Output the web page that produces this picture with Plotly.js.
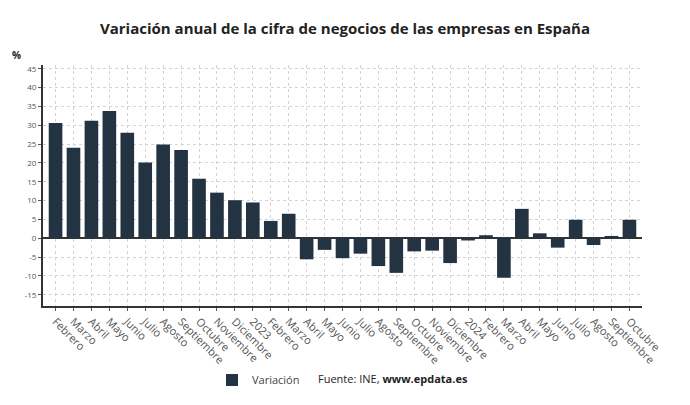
<!DOCTYPE html>
<html>
<head>
<meta charset="utf-8">
<script src="https://cdn.plot.ly/plotly-3.0.1.min.js"></script>
<style>body{margin:0;padding:0;background:#fff}#chart{width:690px;height:405px}</style>
</head>
<body>
<div id="chart"></div>
<script>
var categories = ["Febrero","Marzo","Abril","Mayo","Junio","Julio","Agosto","Septiembre","Octubre","Noviembre","Diciembre","2023",
  "Febrero ","Marzo ","Abril ","Mayo ","Junio ","Julio ","Agosto ","Septiembre ","Octubre ","Noviembre ","Diciembre ","2024",
  "Febrero  ","Marzo  ","Abril  ","Mayo  ","Junio  ","Julio  ","Agosto  ","Septiembre  ","Octubre  "];
var variacion = [30.6,24.0,31.2,33.8,28.0,20.1,24.9,23.4,15.8,12.1,10.1,9.5,4.6,6.5,-5.6,-3.1,-5.3,-4.1,-7.4,-9.2,-3.5,-3.3,-6.6,-0.6,0.8,-10.5,7.8,1.3,-2.5,4.9,-1.8,0.6,4.9];
var yTicks = [-15,-10,-5,0,5,10,15,20,25,30,35,40,45];

var font = "'Open Sans', 'Noto Sans', sans-serif";
var trace = {
  type: 'bar', x: categories, y: variacion, name: 'Variación',
  marker: {color: '#243342'}, hoverinfo: 'x+y'
};
var layout = {
  width: 690, height: 405,
  margin: {l: 43, r: 48, t: 65, b: 98},
  paper_bgcolor: '#fff', plot_bgcolor: '#fff',
  font: {family: font, color: '#444'},
  bargap: 0.24,
  title: {text: 'Variación anual de la cifra de negocios de las empresas en España',
    font: {family: font, size: 15, color: '#222', weight: 'bold'}, x: 0.5, xanchor: 'center', y: 0.93, yanchor: 'middle'},
  xaxis: {
    type: 'category', range: [-0.7, 32.7], tickangle: 45,
    tickfont: {family: font, size: 11, color: '#555'},
    showgrid: true, gridcolor: '#d4d4d8', griddash: 'dot', gridwidth: 1,
    showline: true, linecolor: '#333', linewidth: 2,
    ticks: 'outside', ticklen: 3, tickcolor: '#555', automargin: false
  },
  yaxis: {
    range: [-18, 46], tickvals: yTicks, ticktext: yTicks.map(String),
    tickfont: {family: font, size: 8, color: '#555'},
    showgrid: true, gridcolor: '#d4d4d8', griddash: 'dot', gridwidth: 1,
    showline: true, linecolor: '#333', linewidth: 2,
    zeroline: true, zerolinecolor: '#333', zerolinewidth: 1.5,
    ticks: 'outside', ticklen: 3, tickcolor: '#555', automargin: false
  },
  showlegend: true,
  legend: {orientation: 'h', xref: 'paper', yanchor: 'middle',
    font: {family: font, size: 11, color: '#444'}},
  annotations: [
    {text: '<b>%</b>', xref: 'paper', yref: 'paper', x: -0.045, y: 1.04, xanchor: 'center', yanchor: 'middle',
      showarrow: false, font: {family: font, size: 10, color: '#222'}},
    {text: 'Fuente: INE, <b>www.epdata.es</b>', xref: 'paper', yref: 'paper', x: (316 - 43) / 599, xanchor: 'left',
      y: -(380 - 307) / 242, yanchor: 'middle', showarrow: false, font: {family: font, size: 11, color: '#222'}}
  ]
};
layout.legend.x = (212 - 43) / 599;
layout.legend.y = -(380 - 307) / 242;
Plotly.newPlot('chart', [trace], layout, {displayModeBar: false, staticPlot: true});
</script>
</body>
</html>
